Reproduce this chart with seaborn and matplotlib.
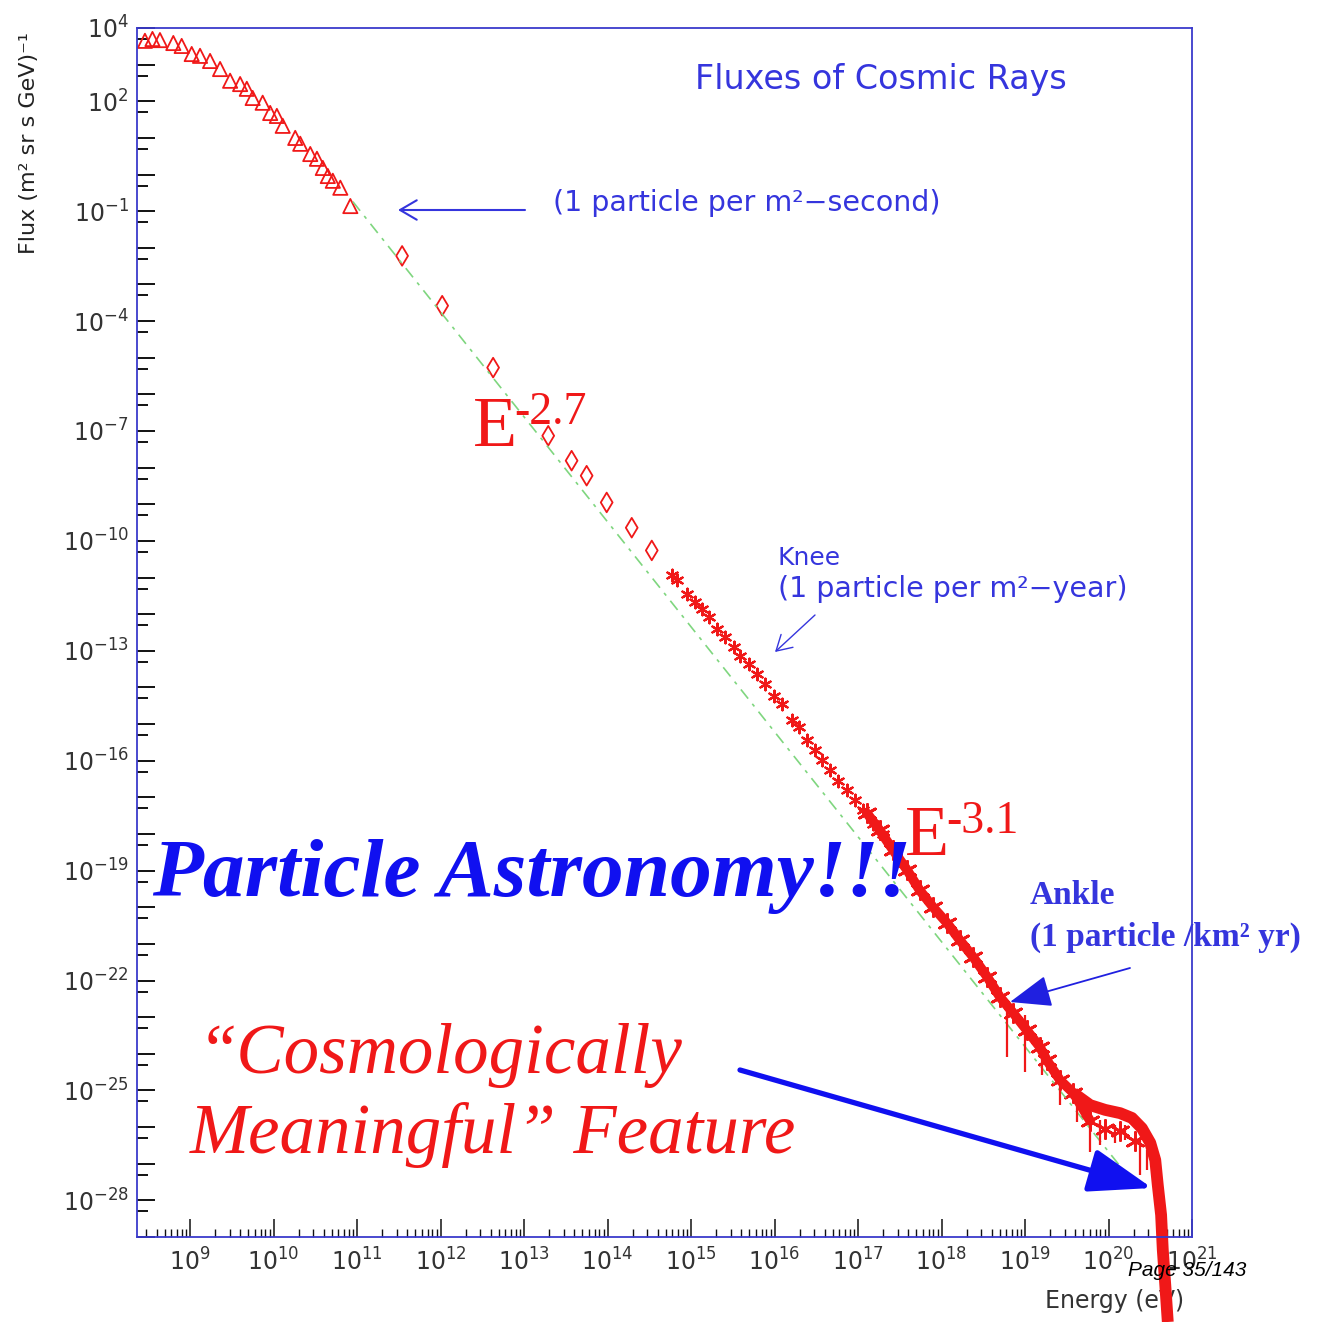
import numpy as np
import matplotlib
matplotlib.use("Agg")
import matplotlib.pyplot as plt
from matplotlib.ticker import FixedLocator, FuncFormatter, NullFormatter
import seaborn as sns

# ---------------- data (log10 of energy in eV, log10 of flux) ----------------
tri_log_e = [8.46, 8.55, 8.64, 8.80, 8.90, 9.02, 9.12, 9.24, 9.36, 9.48, 9.60, 9.68, 9.75,
             9.87, 9.96, 10.04, 10.11, 10.26, 10.32, 10.44, 10.52, 10.59, 10.65, 10.71, 10.80, 10.92]
tri_log_f = [3.65, 3.70, 3.67, 3.59, 3.51, 3.29, 3.24, 3.10, 2.88, 2.56, 2.47, 2.34, 2.09,
             1.96, 1.68, 1.60, 1.33, 1.00, 0.84, 0.56, 0.43, 0.18, -0.04, -0.17, -0.36, -0.86]

dia_log_e = [11.54, 12.02, 12.63, 13.29, 13.57, 13.75, 13.99, 14.29, 14.53]
dia_log_f = [-2.22, -3.58, -5.27, -7.13, -7.81, -8.22, -8.95, -9.64, -10.26]

knee_log_e = [14.77, 14.83, 14.95, 15.05, 15.13, 15.21, 15.31, 15.41, 15.51, 15.59, 15.69,
              15.79, 15.89, 15.99, 16.09, 16.21, 16.29, 16.39, 16.49, 16.57, 16.67, 16.76,
              16.87, 16.96, 17.06, 17.18, 17.30]
knee_log_f = [-10.94, -11.08, -11.44, -11.67, -11.85, -12.08, -12.40, -12.63, -12.90, -13.13,
              -13.35, -13.63, -13.90, -14.22, -14.44, -14.90, -15.08, -15.44, -15.72, -15.99,
              -16.26, -16.54, -16.81, -17.08, -17.35, -17.72, -17.99]

ankle_log_e = [17.11, 17.26, 17.42, 17.59, 17.74, 17.90, 18.07, 18.22, 18.38, 18.55, 18.70,
               18.86, 19.02, 19.18, 19.26, 19.42, 19.58, 19.78, 19.96, 20.14, 20.32]
ankle_log_f = [-17.44, -17.90, -18.44, -18.99, -19.54, -20.00, -20.44, -20.90, -21.36, -21.91,
               -22.45, -22.89, -23.35, -23.82, -24.17, -24.72, -25.07, -25.83, -26.05, -26.11, -26.38]

err_log_e = [18.78, 19.00, 19.20, 19.42, 19.62, 19.78, 19.90, 20.08, 20.20, 20.38, 20.46]
err_log_top = [-22.53, -22.94, -23.63, -24.58, -24.99, -25.75, -25.81, -25.94, -25.94, -26.35, -26.63]
err_log_bot = [-24.09, -24.50, -24.58, -25.40, -25.86, -26.68, -26.49, -26.43, -26.35, -27.31, -27.17]

gzk_log_e = [19.58, 19.78, 19.96, 20.14, 20.28, 20.40, 20.50, 20.56, 20.59, 20.63, 20.65, 20.68, 20.71]
gzk_log_f = [-25.07, -25.40, -25.53, -25.62, -25.75, -26.03, -26.43, -26.90, -27.58, -28.40,
             -29.35, -30.31, -31.32]

ref_log_e = [10.95, 20.15]          # E^-2.7 reference line
ref_log_f = [-0.74, -27.10]

x_tick_exps = list(range(9, 22))
y_label_exps = [4, 2, -1, -4, -7, -10, -13, -16, -19, -22, -25, -28]

# ---------------- figure ----------------
W, H = 1342, 1322
sns.set_theme(style="white")
plt.rcParams["font.family"] = ["DejaVu Sans"]
plt.rcParams["mathtext.fontset"] = "dejavusans"

fig = plt.figure(figsize=(W / 100, H / 100), dpi=100)
fig.patch.set_facecolor("white")
L, R, T, B = 137, 1192, 28, 1237
ax = fig.add_axes([L / W, 1 - B / H, (R - L) / W, (B - T) / H])
ax.set_facecolor("white")

def p10(v):
    return np.power(10.0, np.asarray(v, dtype=float))

RED = "#f01818"
GREEN = "#7fd67f"

sns.lineplot(x=p10(ref_log_e), y=p10(ref_log_f), ax=ax, color=GREEN, lw=1.2,
             linestyle=(0, (7, 4, 2, 4)), estimator=None, sort=False)

sns.scatterplot(x=p10(tri_log_e), y=p10(tri_log_f), ax=ax, marker="^", s=105,
                facecolors="none", edgecolor=RED, linewidth=1.3, legend=False)
sns.scatterplot(x=p10(dia_log_e), y=p10(dia_log_f), ax=ax, marker="d", s=100,
                facecolors="none", edgecolor=RED, linewidth=1.3, legend=False)

sns.scatterplot(x=p10(knee_log_e), y=p10(knee_log_f), ax=ax, marker=(6, 2, 0), s=70,
                color=RED, linewidth=1.6, legend=False)

sns.lineplot(x=p10(ankle_log_e[:18]), y=p10(ankle_log_f[:18]), ax=ax, color=RED, lw=7,
             estimator=None, sort=False)
sns.scatterplot(x=p10(ankle_log_e), y=p10(ankle_log_f), ax=ax, marker=(6, 2, 0), s=170,
                color=RED, linewidth=2.0, legend=False)

ax.vlines(p10(err_log_e), p10(err_log_bot), p10(err_log_top), color=RED, lw=1.6)

sns.lineplot(x=p10(gzk_log_e), y=p10(gzk_log_f), ax=ax, color=RED, lw=8.5,
             estimator=None, sort=False, clip_on=False, solid_capstyle="butt")

ax.set_xscale("log")
ax.set_yscale("log")
ax.set_xlim(10 ** 8.365, 1e21)
ax.set_ylim(1e-29, 1e4)

# ticks
ax.xaxis.set_major_locator(FixedLocator([10.0 ** e for e in x_tick_exps]))
ax.xaxis.set_major_formatter(FuncFormatter(lambda v, p: r"$10^{%d}$" % round(np.log10(v))))
xminor = [m * 10.0 ** e for e in range(8, 21) for m in range(2, 10)]
ax.xaxis.set_minor_locator(FixedLocator(xminor))
ax.xaxis.set_minor_formatter(NullFormatter())

ax.yaxis.set_major_locator(FixedLocator([10.0 ** e for e in range(-29, 5)]))
def yfmt(v, p):
    e = int(round(np.log10(v)))
    return r"$10^{%d}$" % e if e in y_label_exps else ""
ax.yaxis.set_major_formatter(FuncFormatter(yfmt))
ax.yaxis.set_minor_locator(FixedLocator([5 * 10.0 ** e for e in range(-30, 4)]))
ax.yaxis.set_minor_formatter(NullFormatter())

ax.tick_params(axis="both", which="both", direction="in", colors="#111111",
               labelcolor="#333333", labelsize=17, left=True, bottom=True,
               top=False, right=False)
ax.tick_params(axis="y", which="major", length=13, width=1.4, pad=6)
ax.tick_params(axis="y", which="minor", length=8, width=1.4)
ax.tick_params(axis="x", which="major", length=13, width=1.1, pad=8)
ax.tick_params(axis="x", which="minor", length=6, width=1.0)

for s in ax.spines.values():
    s.set_color("#3a3acc")
    s.set_linewidth(1.3)
    s.set_visible(True)

ax.set_ylabel("Flux (m² sr s GeV)⁻¹", fontsize=16, color="#222222")
ax.yaxis.set_label_coords(-0.093, 0.905)
ax.set_xlabel("Energy (eV)", fontsize=17, color="#333333")
ax.xaxis.set_label_coords(0.927, -0.043)

# ---------------- annotations ----------------
def fx(x):
    return x / W

def fy(y):
    return 1 - y / H

BLUE = "#3535dd"
BIGBLUE = "#1010f0"

fig.text(fx(695), fy(80), "Fluxes of Cosmic Rays", color=BLUE, fontsize=24, ha="left", va="center")
fig.text(fx(553), fy(203), "(1 particle per m²−second)", color=BLUE, fontsize=20.5, ha="left", va="center")
fig.text(fx(778), fy(558), "Knee", color=BLUE, fontsize=18, ha="left", va="center")
fig.text(fx(778), fy(589), "(1 particle per m²−year)", color=BLUE, fontsize=20.5, ha="left", va="center")

serif = ["Liberation Serif", "DejaVu Serif"]
fig.text(fx(473), fy(446), "E", color=RED, fontsize=52, family=serif, ha="left", va="baseline")
fig.text(fx(514), fy(424), "-2.7", color=RED, fontsize=33, family=serif, ha="left", va="baseline")
fig.text(fx(905), fy(855), "E", color=RED, fontsize=52, family=serif, ha="left", va="baseline")
fig.text(fx(946), fy(833), "-3.1", color=RED, fontsize=33, family=serif, ha="left", va="baseline")

fig.text(fx(152), fy(896), "Particle Astronomy!!!", color=BIGBLUE, fontsize=60, family=serif,
         weight="bold", style="italic", ha="left", va="baseline")

fig.text(fx(1030), fy(904), "Ankle", color=BLUE, fontsize=24, family=serif, weight="bold",
         ha="left", va="baseline")
fig.text(fx(1030), fy(946), "(1 particle /km² yr)", color=BLUE, fontsize=24, family=serif,
         weight="bold", ha="left", va="baseline")

fig.text(fx(198), fy(1073), "\u201cCosmologically", color=RED, fontsize=51, family=serif,
         style="italic", ha="left", va="baseline")
fig.text(fx(190), fy(1153), "Meaningful\u201d Feature", color=RED, fontsize=51, family=serif,
         style="italic", ha="left", va="baseline")

fig.text(fx(1128), fy(1270), "Page 35/143", color="black", fontsize=15,
         family=["Liberation Sans", "DejaVu Sans"], style="italic", ha="left", va="center")

def arrow(x0, y0, x1, y1, style, lw, color, scale):
    ax.annotate("", xy=(fx(x1), fy(y1)), xytext=(fx(x0), fy(y0)),
                xycoords="figure fraction", textcoords="figure fraction",
                annotation_clip=False,
                arrowprops=dict(arrowstyle=style, lw=lw, color=color,
                                mutation_scale=scale, shrinkA=0, shrinkB=0))

arrow(525, 210, 398, 210, "->,head_length=0.6,head_width=0.35", 1.5, BLUE, 20)
arrow(815, 615, 775, 652, "->,head_length=0.6,head_width=0.35", 1.0, BLUE, 18)
arrow(1130, 968, 1010, 1002, "-|>,head_length=1.3,head_width=0.5", 1.3, "#2020e0", 20)
arrow(740, 1070, 1152, 1188, "-|>,head_length=1.3,head_width=0.45", 3.8, BIGBLUE, 30)

fig.savefig("out.png", dpi=100, facecolor="white")
